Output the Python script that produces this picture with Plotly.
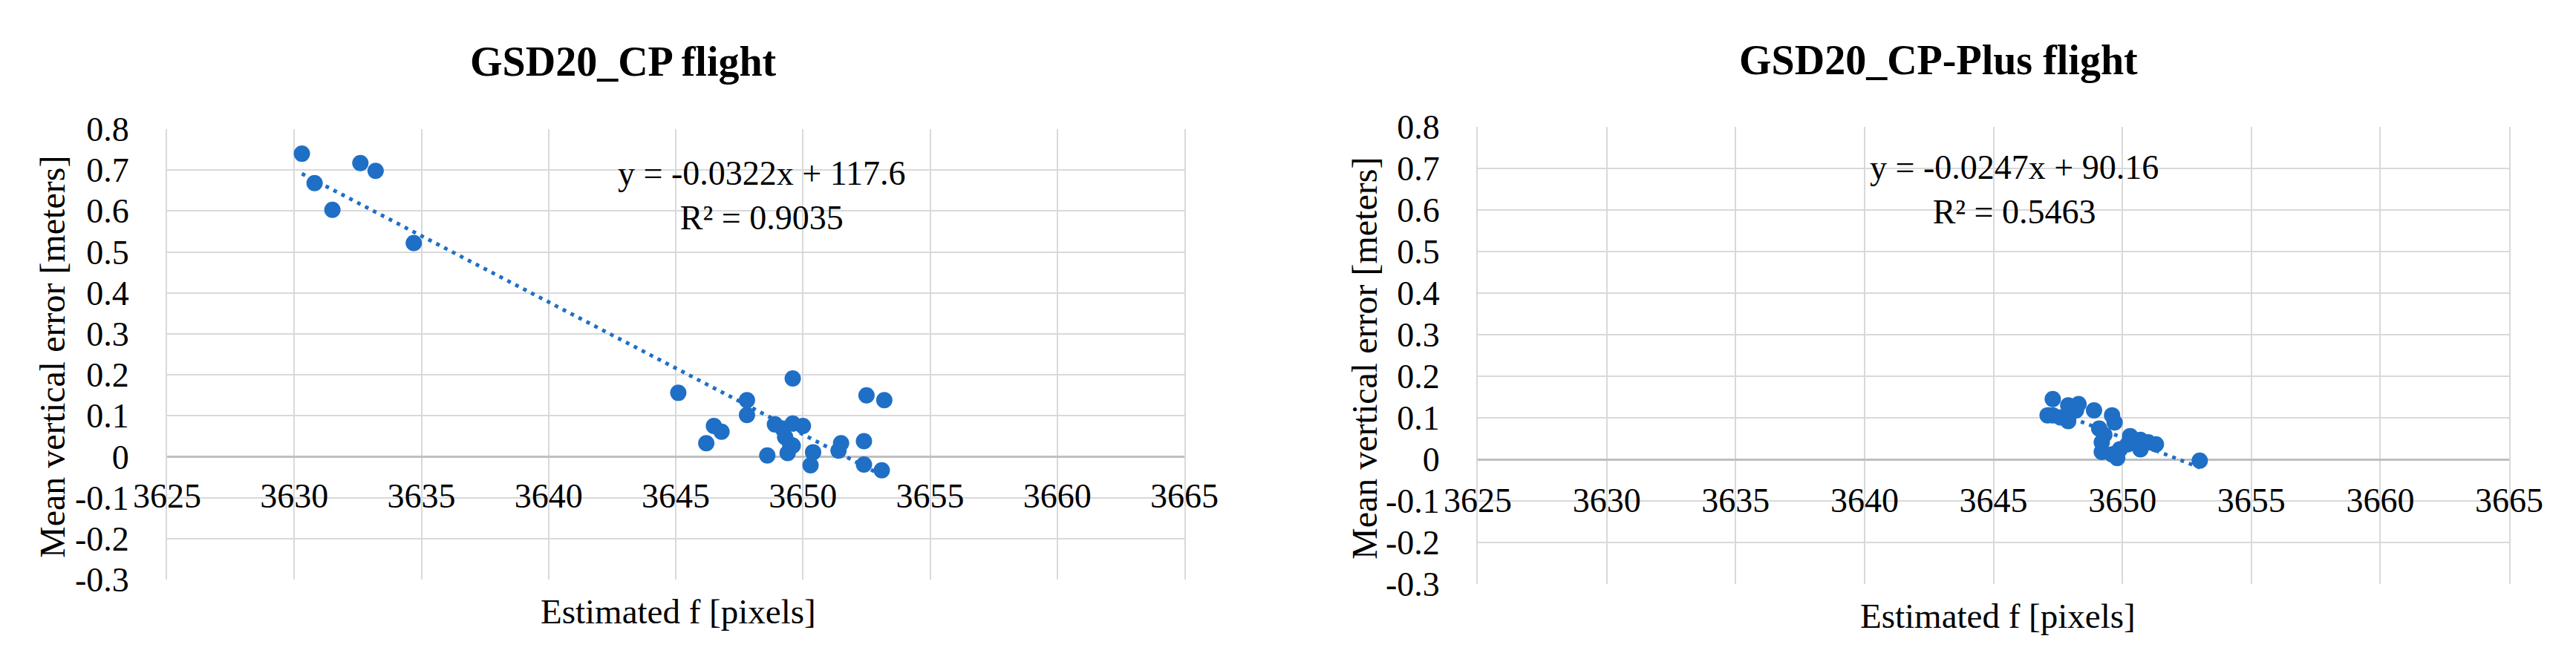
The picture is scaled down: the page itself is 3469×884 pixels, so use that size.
import numpy as np
import plotly.graph_objects as go

# Datos: f estimada [px] vs error vertical medio [m]
# Vuelo GSD20_CP
cp_f = [3630.3, 3630.8, 3631.5, 3632.6, 3633.2, 3634.7, 3645.1, 3646.2, 3646.5, 3646.8,
        3647.8, 3647.8, 3648.6, 3648.9, 3649.2, 3649.6, 3649.6, 3650.0, 3649.3, 3649.5,
        3649.4, 3649.6, 3650.4, 3650.3, 3651.5, 3651.4, 3652.4, 3652.5, 3653.2, 3652.4,
        3653.1]
cp_err = [0.740, 0.668, 0.603, 0.717, 0.698, 0.522, 0.156, 0.033, 0.075, 0.061,
          0.138, 0.102, 0.003, 0.079, 0.069, 0.191, 0.081, 0.075, 0.048, 0.030,
          0.009, 0.027, 0.011, -0.021, 0.033, 0.015, 0.038, 0.150, 0.138, -0.019,
          -0.033]

# Vuelo GSD20_CP-Plus
plus_f = [3647.3, 3647.3, 3647.1, 3647.6, 3647.9, 3647.9, 3648.3, 3648.2, 3648.9, 3649.6,
          3649.7, 3649.1, 3649.3, 3649.2, 3649.2, 3649.6, 3649.8, 3650.3, 3650.7, 3650.2,
          3650.7, 3651.3, 3649.9, 3651.0, 3653.0]
plus_err = [0.145, 0.106, 0.106, 0.101, 0.092, 0.130, 0.133, 0.118, 0.118, 0.106,
            0.089, 0.074, 0.059, 0.041, 0.018, 0.012, 0.003, 0.056, 0.047, 0.036,
            0.024, 0.036, 0.024, 0.041, -0.003]

titles = ['GSD20_CP flight', 'GSD20_CP-Plus flight']
equations = ['y = -0.0322x + 117.6<br>R² = 0.9035',
             'y = -0.0247x + 90.16<br>R² = 0.5463']
x_title = 'Estimated f [pixels]'
y_title = 'Mean vertical error [meters]'

x_ticks = [3625, 3630, 3635, 3640, 3645, 3650, 3655, 3660, 3665]
x_ticktext = ['3625', '3630', '3635', '3640', '3645', '3650', '3655', '3660', '3665']
y_ticks = [-0.3, -0.2, -0.1, 0, 0.1, 0.2, 0.3, 0.4, 0.5, 0.6, 0.7, 0.8]
y_ticktext = ['-0.3', '-0.2', '-0.1', '0', '0.1', '0.2', '0.3', '0.4', '0.5', '0.6', '0.7', '0.8']

W, H = 3469, 884
FONT = 'Liberation Serif'
BLUE = '#1f6fc6'
GRID = '#d9d9d9'

# cajas de cada gráfico en px: (izq, der, arriba, abajo)
boxes = [(217, 1587, 166, 773), (1982, 3371, 163, 779)]
# posición de etiquetas del eje x (px), texto de ecuación (datos), títulos (px)
xlabel_px = [629, 635]
eq_pos = [(3648.4, 0.638), (3645.8, 0.65)]
title_px = [(831, 75), (2602, 73)]
ytitle_px = [(62, 473), (1829, 475)]
xtitle_px = [(906, 816), (2682, 822)]

fig = go.Figure()
series = [(cp_f, cp_err), (plus_f, plus_err)]
annotations = []
layout_axes = {}

for i, (fx, fy) in enumerate(series):
    xs_name = 'x' if i == 0 else 'x2'
    ys_name = 'y' if i == 0 else 'y2'
    fig.add_trace(go.Scatter(
        x=fx, y=fy, mode='markers',
        marker=dict(size=22, color=BLUE, line=dict(width=0)),
        xaxis=xs_name, yaxis=ys_name, showlegend=False
    ))
    # línea de tendencia lineal
    m, b = np.polyfit(fx, fy, 1)
    xl = np.array([min(fx), max(fx)])
    fig.add_trace(go.Scatter(
        x=xl, y=m * xl + b, mode='lines',
        line=dict(color=BLUE, width=5, dash='5px,7px'),
        xaxis=xs_name, yaxis=ys_name, showlegend=False
    ))

    l, r, t, bt = boxes[i]
    xdom = [l / W, r / W]
    ydom = [1 - bt / H, 1 - t / H]
    tickfont = dict(family=FONT, size=46, color='black')
    layout_axes['xaxis' if i == 0 else 'xaxis2'] = dict(
        domain=xdom, range=[3625, 3665], anchor='free', position=1 - xlabel_px[i] / H,
        tickmode='array', tickvals=x_ticks, ticktext=x_ticktext,
        showgrid=True, gridcolor=GRID, gridwidth=2, automargin=False,
        zeroline=False, showline=False, ticks='', tickfont=tickfont
    )
    layout_axes['yaxis' if i == 0 else 'yaxis2'] = dict(
        domain=ydom, range=[-0.3, 0.8], anchor=xs_name,
        tickmode='array', tickvals=y_ticks, ticktext=y_ticktext,
        showgrid=True, gridcolor=GRID, gridwidth=2, automargin=False,
        zeroline=True, zerolinecolor='#bfbfbf', zerolinewidth=3,
        showline=True, mirror=True, linecolor=GRID, linewidth=2,
        ticks='', ticklabelstandoff=40, tickfont=tickfont
    )

    annotations.append(dict(
        text='<b>' + titles[i] + '</b>', x=title_px[i][0] / W, y=1 - title_px[i][1] / H,
        xref='paper', yref='paper', showarrow=False, xanchor='center', yanchor='middle',
        font=dict(family=FONT, size=56, color='black')
    ))
    annotations.append(dict(
        text=equations[i], x=eq_pos[i][0], y=eq_pos[i][1], xref=xs_name, yref=ys_name,
        showarrow=False, xanchor='center', yanchor='middle', align='center',
        font=dict(family=FONT, size=46, color='black')
    ))
    annotations.append(dict(
        text=y_title, x=ytitle_px[i][0] / W, y=1 - ytitle_px[i][1] / H,
        xref='paper', yref='paper', showarrow=False, textangle=-90,
        xanchor='center', yanchor='middle',
        font=dict(family=FONT, size=48, color='black')
    ))
    annotations.append(dict(
        text=x_title, x=xtitle_px[i][0] / W, y=1 - xtitle_px[i][1] / H,
        xref='paper', yref='paper', showarrow=False, xanchor='center', yanchor='middle',
        font=dict(family=FONT, size=47, color='black')
    ))

fig.update_layout(
    width=W, height=H, autosize=False,
    margin=dict(l=0, r=0, t=0, b=0, pad=0, autoexpand=False),
    paper_bgcolor='white', plot_bgcolor='white',
    annotations=annotations,
    showlegend=False,
    **layout_axes
)

fig.write_html("out.html")
